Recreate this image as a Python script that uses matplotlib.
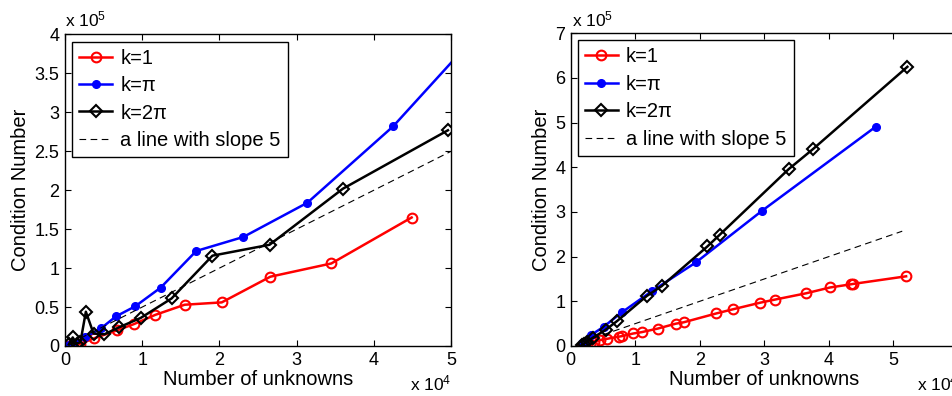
import matplotlib
matplotlib.use("Agg")
import matplotlib.pyplot as plt
import numpy as np

plt.rcParams['font.family'] = ['Liberation Sans', 'DejaVu Sans']
plt.rcParams['mathtext.default'] = 'regular'

# ---------------- data (left panel) ----------------
L_k1_n = [500, 1000, 2000, 3800, 6700, 8900, 11700, 15500, 20300, 26600, 34500, 44900]
L_k1_c = [0, 1000, 3000, 10000, 20000, 28000, 40000, 53000, 56000, 89000, 106000, 165000]

L_kpi_n = [500, 1000, 2600, 4700, 6600, 9100, 12400, 17000, 23100, 31400, 42500, 55000]
L_kpi_c = [1000, 3000, 11000, 23000, 38000, 51000, 75000, 122000, 140000, 184000, 282000, 418000]

L_k2pi_n = [500, 1000, 1500, 2000, 2700, 3700, 5100, 7000, 9800, 13800, 19100, 26500, 36000, 49600]
L_k2pi_c = [2000, 11000, 3000, 5000, 44000, 16000, 15000, 24000, 36000, 61000, 116000, 130000, 202000, 277000]

L_ref_n = [2000, 50000]

# ---------------- data (right panel) ----------------
R_k1_n = [1700, 2000, 2500, 3000, 3600, 4500, 5600, 7500, 7900, 9700, 11000, 13500, 16300, 17500,
          22600, 25100, 29400, 31700, 36500, 40200, 43400, 43800, 52000]
R_k1_c = [0, 1000, 3000, 5000, 8000, 13000, 16000, 21000, 22000, 28000, 31000, 39000, 50000, 53000,
          73000, 82000, 97000, 104000, 118000, 131000, 138000, 139000, 156000]

R_kpi_n = [1700, 2100, 3200, 5100, 7900, 12600, 19400, 29600, 47300]
R_kpi_c = [6000, 10000, 25000, 43000, 75000, 123000, 187000, 302000, 491000]

R_k2pi_n = [1700, 2000, 2500, 3500, 5400, 7200, 11800, 14100, 21200, 23100, 33800, 37500, 52200]
R_k2pi_c = [2000, 5000, 10000, 19000, 36000, 56000, 112000, 134000, 223000, 249000, 396000, 440000, 625000]

R_ref_n = [1700, 51400]

SLOPE = 5
XS, YS = 1e4, 1e5

fig = plt.figure(figsize=(9.52, 3.96), dpi=100)
axL = fig.add_axes([65/952, 50/396, 386/952, 311.5/396])
axR = fig.add_axes([570.7/952, 50/396, 387/952, 312.7/396])


def draw(ax, k1n, k1c, kpin, kpic, k2n, k2c, refn, xlim, ylim, yticks, yticklabels):
    ax.plot(np.array(k1n)/XS, np.array(k1c)/YS, '-o', color='#ff0000', lw=1.8,
            mfc='none', mec='#ff0000', mew=1.5, ms=7, label='k=1')
    ax.plot(np.array(kpin)/XS, np.array(kpic)/YS, '-o', color='#0000ff', lw=1.8,
            mfc='#0000ff', mec='#0000ff', ms=5.5, label='k=π')
    ax.plot(np.array(k2n)/XS, np.array(k2c)/YS, '-D', color='black', lw=1.8,
            mfc='none', mec='black', mew=1.5, ms=6, label='k=2π')
    rn = np.array(refn, dtype=float)
    ax.plot(rn/XS, SLOPE*rn/YS, '--', color='black', lw=0.8, dashes=(6, 4),
            label='a line with slope 5')
    ax.set_xlim(*xlim)
    ax.set_ylim(*ylim)
    ax.set_yticks(yticks)
    ax.set_yticklabels(yticklabels)
    ax.tick_params(direction='in', top=True, right=True, labelsize=13, length=4, pad=4)
    ax.set_xlabel('Number of unknowns', fontsize=14.5, labelpad=1)
    ax.set_ylabel('Condition Number', fontsize=14.5, labelpad=3)
    for s in ax.spines.values():
        s.set_linewidth(1.0)
    leg = ax.legend(loc='upper left', fontsize=14.5, fancybox=False, edgecolor='black',
                    framealpha=1, handlelength=1.65, borderpad=0.35, labelspacing=0.42,
                    handletextpad=0.4, borderaxespad=0.35)
    leg.get_frame().set_linewidth(1.0)


draw(axL, L_k1_n, L_k1_c, L_kpi_n, L_kpi_c, L_k2pi_n, L_k2pi_c, L_ref_n,
     (0, 5), (0, 4), [0, 0.5, 1, 1.5, 2, 2.5, 3, 3.5, 4],
     ['0', '0.5', '1', '1.5', '2', '2.5', '3', '3.5', '4'])
axL.set_xticks([0, 1, 2, 3, 4, 5])

draw(axR, R_k1_n, R_k1_c, R_kpi_n, R_kpi_c, R_k2pi_n, R_k2pi_c, R_ref_n,
     (0, 6), (0, 7), [0, 1, 2, 3, 4, 5, 6, 7],
     ['0', '1', '2', '3', '4', '5', '6', '7'])
axR.set_xticks([0, 1, 2, 3, 4, 5, 6])
axR.set_xticklabels(['0', '1', '2', '3', '4', '5', ''])

# MATLAB-style exponent labels
fig.text(65/952, 1 - 26/396, 'x 10$^{5}$', fontsize=12.5, ha='left', va='baseline')
fig.text(410/952, 1 - 390/396, 'x 10$^{4}$', fontsize=12.5, ha='left', va='baseline')
fig.text(572/952, 1 - 26/396, 'x 10$^{5}$', fontsize=12.5, ha='left', va='baseline')
fig.text(917/952, 1 - 390/396, 'x 10$^{4}$', fontsize=12.5, ha='left', va='baseline')

fig.savefig('out.png', dpi=100)
